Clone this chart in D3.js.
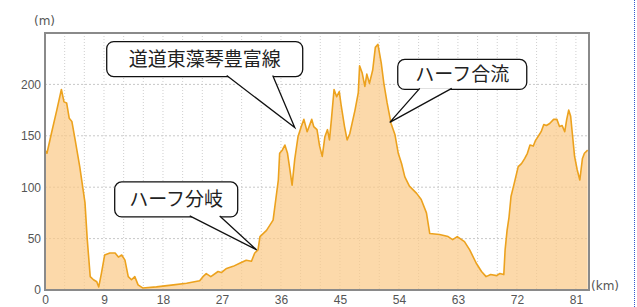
<!DOCTYPE html>
<html>
<head>
<meta charset="utf-8">
<script src="https://cdn.jsdelivr.net/npm/d3@7"></script>
<style>
  body { margin: 0; background: #fff; }
  svg { display: block; font-family: Verdana, "DejaVu Sans", sans-serif; }
</style>
</head>
<body>
<div id="chart"></div>
<script>
// elevation profile
const distanceKm = [0, 0.3, 1.0, 1.8, 2.5, 2.9, 3.3, 3.7, 4.1, 4.6, 5.3, 6.1, 6.45, 6.9, 7.4, 7.9, 8.2, 8.6, 9.1, 9.9,
  10.7, 11.2, 11.7, 12.2, 12.7, 13.2, 13.7, 14.2, 14.9, 17.0, 19.6, 21.6, 23.6, 24.1, 24.6, 25.3, 26.4, 26.9, 27.7, 28.7,
  29.7, 30.7, 31.5, 32.0, 32.5, 32.8, 33.8, 34.8, 35.6, 35.8, 36.2, 36.6, 37.0, 37.3, 37.7, 38.1, 38.6, 39.1, 39.5, 40.0,
  40.7, 41.0, 41.5, 41.9, 42.3, 42.7, 43.1, 43.4, 43.7, 44.1, 44.5, 44.9, 45.2, 45.7, 46.1, 46.5, 47.3, 47.8, 48.0, 48.4,
  48.8, 49.1, 49.5, 50.0, 50.4, 50.8, 51.3, 51.7, 52.2, 52.8, 53.4, 53.9, 54.4, 54.9, 55.6, 56.7, 57.4, 58.2, 58.7, 60.2,
  61.5, 62.2, 62.9, 64.0, 64.8, 65.8, 66.6, 67.3, 68.0, 68.9, 69.4, 70.0, 70.2, 70.5, 70.8, 71.1, 71.6, 72.2, 72.7, 73.2,
  73.6, 74.0, 74.5, 74.8, 75.4, 75.7, 76.1, 76.5, 77.0, 77.6, 78.1, 78.5, 78.9, 79.3, 79.6, 79.9, 80.2, 80.8, 81.2, 81.6,
  82.0, 82.3, 82.8];
const elevationM = [136, 133, 153, 175, 195, 183, 182, 167, 164, 146, 120, 85, 49, 13, 10, 8, 3, 16, 34, 36,
  36, 32, 34, 29, 13, 10, 13, 5, 2, 3, 5, 6.5, 9, 13, 16, 13, 18, 17, 21, 23,
  26, 29, 28, 36, 39, 52, 58, 68, 107, 133, 136, 141, 133, 120, 102, 127, 149, 159, 166, 154,
  166, 159, 156, 140, 130, 149, 156, 146, 166, 195, 188, 193, 179, 159, 146, 152, 175, 192, 218, 211,
  198, 210, 201, 214, 236, 239, 221, 201, 182, 162, 151, 133, 123, 110, 101, 94, 88, 75, 55, 54,
  52, 49, 52, 47, 39, 26, 18, 13, 15, 14, 16, 15, 39, 58, 71, 91, 104, 120, 123, 128,
  133, 141, 140, 145, 151, 154, 161, 160, 162, 166, 166, 159, 160, 154, 166, 175, 169, 130, 117, 107,
  128, 133, 136];

const xTicks = [0, 9, 18, 27, 36, 45, 54, 63, 72, 81];
const yTicks = [0, 50, 100, 150, 200];

// callouts: label, point the pointer touches (km, m)
const calloutText = ['道道東藻琴豊富線', 'ハーフ合流', 'ハーフ分岐'];
const calloutKm = [38.1, 52.6, 32.3];
const calloutM = [158, 163, 39];

const W = 637, H = 307;
const margin = {top: 33, right: 48, bottom: 17, left: 45};
const width = W - margin.left - margin.right,
  height = H - margin.top - margin.bottom;

const svg = d3.select('#chart').append('svg')
  .attr('width', W)
  .attr('height', H);

// page border on the right
svg.append('line')
  .attr('x1', 634.5).attr('x2', 634.5)
  .attr('y1', 0).attr('y2', H)
  .style('stroke', '#3355cc')
  .style('stroke-width', 1)
  .style('stroke-dasharray', '1,1');

const g = svg.append('g')
  .attr('transform', 'translate(' + margin.left + ',' + margin.top + ')');

const x = d3.scaleLinear().domain([0, 83]).range([0, width]);
const y = d3.scaleLinear().domain([0, 250]).range([height, 0]);

// grid
g.append('g')
  .selectAll('line')
  .data(d3.range(3, 83, 3))
  .join('line')
  .attr('x1', d => x(d)).attr('x2', d => x(d))
  .attr('y1', 0).attr('y2', height)
  .style('stroke', '#cfcfcf')
  .style('stroke-dasharray', '1,2');

g.append('g')
  .selectAll('line')
  .data([50, 100, 150, 200])
  .join('line')
  .attr('x1', 0).attr('x2', width)
  .attr('y1', d => y(d)).attr('y2', d => y(d))
  .style('stroke', '#c8c8c8')
  .style('stroke-dasharray', '2,2');

const data = d3.zip(distanceKm, elevationM);

const area = d3.area()
  .x(d => x(d[0]))
  .y0(height)
  .y1(d => y(d[1]));

const line = d3.line()
  .x(d => x(d[0]))
  .y(d => y(d[1]));

g.append('path')
  .datum(data)
  .attr('d', area)
  .style('fill', '#fbc986')
  .style('fill-opacity', 0.7);

g.append('path')
  .datum(data)
  .attr('d', line)
  .style('fill', 'none')
  .style('stroke', '#eca21e')
  .style('stroke-width', 1.6)
  .style('stroke-linejoin', 'round');

// frame
g.append('rect')
  .attr('x', 0).attr('y', 0)
  .attr('width', width).attr('height', height)
  .style('fill', 'none')
  .style('stroke', '#8a8a8a')
  .style('stroke-width', 2);

// axes
const xAxis = g.append('g')
  .attr('transform', 'translate(0,' + height + ')')
  .call(d3.axisBottom(x).tickValues(xTicks).tickSize(0).tickPadding(5));
const yAxis = g.append('g')
  .call(d3.axisLeft(y).tickValues(yTicks).tickSize(0).tickPadding(4));
[xAxis, yAxis].forEach(a => {
  a.select('.domain').remove();
  a.selectAll('text')
    .style('font-size', '12px')
    .style('fill', '#555');
});

svg.append('text')
  .attr('x', 34).attr('y', 25)
  .style('font-size', '12px')
  .style('fill', '#555')
  .text('(m)');

svg.append('text')
  .attr('x', 591).attr('y', 290)
  .style('font-size', '12px')
  .style('fill', '#555')
  .text('(km)');

// callouts
const boxes = [
  {dx: -188, dy: -86, w: 196, h: 35, p1: 120, p2: 166},
  {dx: 8, dy: -63, w: 129, h: 30, p1: 22, p2: 54},
  {dx: -142, dy: -68, w: 123, h: 35, p1: 75, p2: 105}
];

calloutText.forEach((t, i) => {
  const tx = x(calloutKm[i]), ty = y(calloutM[i]);
  const b = boxes[i];
  const bx = tx + b.dx, by = ty + b.dy;
  const c = g.append('g');
  c.append('rect')
    .attr('x', bx).attr('y', by)
    .attr('width', b.w).attr('height', b.h)
    .attr('rx', 7)
    .style('fill', '#fff')
    .style('stroke', '#111')
    .style('stroke-width', 1.3);
  c.append('path')
    .attr('d', 'M' + (bx + b.p1) + ',' + (by + b.h - 1) + 'L' + tx + ',' + ty + 'L' + (bx + b.p2) + ',' + (by + b.h - 1))
    .style('fill', '#fff')
    .style('stroke', '#111')
    .style('stroke-width', 1.3);
  c.append('text')
    .attr('x', bx + b.w / 2)
    .attr('y', by + b.h / 2)
    .attr('dy', '.36em')
    .attr('text-anchor', 'middle')
    .style('font-family', '"Noto Sans CJK JP", sans-serif')
    .style('font-size', '19px')
    .style('fill', '#222')
    .text(t);
});
</script>
</body>
</html>
